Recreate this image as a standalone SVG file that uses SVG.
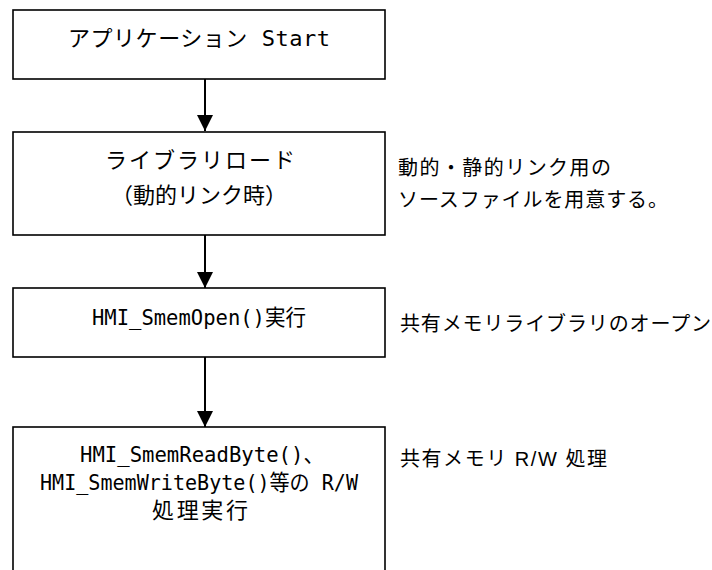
<svg xmlns="http://www.w3.org/2000/svg" width="712" height="570" viewBox="0 0 712 570">
<defs>
<style>
.box{fill:#fff;stroke:#000;stroke-width:1.6}
.bt{font-family:"DejaVu Sans Mono","Noto Sans CJK JP",monospace;font-size:22px;fill:#000}
.nt{font-family:"Liberation Sans","Noto Sans CJK JP",sans-serif;font-size:20px;fill:#000}
.conn{stroke:#000;stroke-width:2;fill:none}
</style>
<marker id="ah" markerUnits="userSpaceOnUse" markerWidth="16" markerHeight="16" viewBox="0 0 16 16" refX="16" refY="8" orient="auto">
<path d="M0,0 L16,8 L0,16 Z" fill="#000"/>
</marker>
</defs>
<rect width="712" height="570" fill="#fff"/>
<g id="connectors">
<line class="conn" x1="205" y1="79" x2="205" y2="131" marker-end="url(#ah)"/>
<line class="conn" x1="205" y1="235" x2="205" y2="288" marker-end="url(#ah)"/>
<line class="conn" x1="205" y1="357" x2="205" y2="427" marker-end="url(#ah)"/>
</g>
<g id="node-start">
<rect class="box" x="13" y="10" width="372" height="69"/>
<text class="bt" x="68" y="46" textLength="262" lengthAdjust="spacing">アプリケーション Start</text>
</g>
<g id="node-libload">
<rect class="box" x="13" y="132" width="372" height="103"/>
<text class="bt" x="105" y="168" textLength="190" lengthAdjust="spacing">ライブラリロード</text>
<text class="bt" x="111" y="203" textLength="176" lengthAdjust="spacing">（動的リンク時）</text>
</g>
<g id="node-open">
<rect class="box" x="13" y="288" width="372" height="69"/>
<text class="bt" x="92" y="325" textLength="214" lengthAdjust="spacingAndGlyphs">HMI_SmemOpen()実行</text>
</g>
<g id="node-rw">
<rect class="box" x="13" y="427" width="372" height="160"/>
<text class="bt" x="80" y="462" textLength="244" lengthAdjust="spacingAndGlyphs">HMI_SmemReadByte()、</text>
<text class="bt" x="40" y="490" textLength="318" lengthAdjust="spacingAndGlyphs">HMI_SmemWriteByte()等の R/W</text>
<text class="bt" x="152" y="518" textLength="96" lengthAdjust="spacing">処理実行</text>
</g>
<g id="note-libload">
<text class="nt" x="398" y="175" textLength="213" lengthAdjust="spacing">動的・静的リンク用の</text>
<text class="nt" x="398" y="207" textLength="270" lengthAdjust="spacing">ソースファイルを用意する。</text>
</g>
<g id="note-open">
<text class="nt" x="400" y="331" textLength="311" lengthAdjust="spacing">共有メモリライブラリのオープン</text>
</g>
<g id="note-rw">
<text class="nt" x="400" y="466" textLength="207" lengthAdjust="spacing">共有メモリ R/W 処理</text>
</g>
</svg>
